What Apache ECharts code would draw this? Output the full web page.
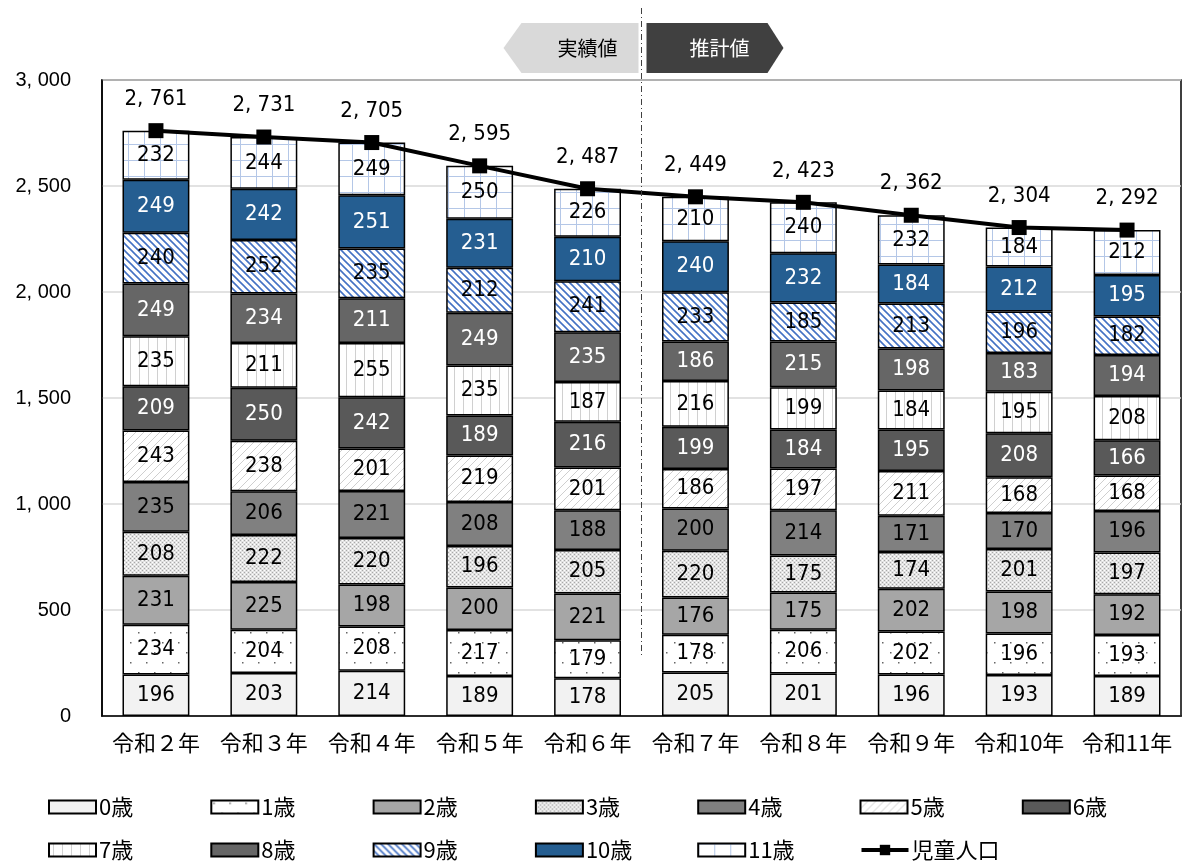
<!DOCTYPE html>
<html><head><meta charset="utf-8">
<script src="https://cdn.jsdelivr.net/npm/echarts@6/dist/echarts.min.js"></script>
<style>html,body{margin:0;padding:0;background:#fff}#c{width:1186px;height:864px}</style>
</head><body><div id="c"></div>
<script>
const categories = ['令和２年','令和３年','令和４年','令和５年','令和６年','令和７年','令和８年','令和９年','令和10年','令和11年'];
const age0  = [196,203,214,189,178,205,201,196,193,189];
const age1  = [234,204,208,217,179,178,206,202,196,193];
const age2  = [231,225,198,200,221,176,175,202,198,192];
const age3  = [208,222,220,196,205,220,175,174,201,197];
const age4  = [235,206,221,208,188,200,214,171,170,196];
const age5  = [243,238,201,219,201,186,197,211,168,168];
const age6  = [209,250,242,189,216,199,184,195,208,166];
const age7  = [235,211,255,235,187,216,199,184,195,208];
const age8  = [249,234,211,249,235,186,215,198,183,194];
const age9  = [240,252,235,212,241,233,185,213,196,182];
const age10 = [249,242,251,231,210,240,232,184,212,195];
const age11 = [232,244,249,250,226,210,240,232,184,212];
const totals = [2761,2731,2705,2595,2487,2449,2423,2362,2304,2292];
const seriesNames = ['0歳','1歳','2歳','3歳','4歳','5歳','6歳','7歳','8歳','9歳','10歳','11歳'];
const lineName = '児童人口';
const yTicks = {min:0, max:3000, interval:500};

function pat(w,h,draw){const c=document.createElement('canvas');c.width=w;c.height=h;const g=c.getContext('2d');g.fillStyle='#fff';g.fillRect(0,0,w,h);draw(g);return {image:c,repeat:'repeat'};}
const fills = [
  '#f2f2f2',
  pat(16,20,g=>{g.fillStyle='#666';g.fillRect(2,2,1.5,1.5);g.fillRect(10,12,1.5,1.5);}),
  '#a6a6a6',
  pat(4,4,g=>{g.fillStyle='#e2e2e2';g.fillRect(0,0,4,4);g.fillStyle='#a8a8a8';g.fillRect(0,0,1,1);g.fillRect(2,2,1,1);g.fillStyle='#fff';g.fillRect(2,0,1,1);g.fillRect(0,2,1,1);}),
  '#808080',
  pat(8,8,g=>{g.strokeStyle='#cfcfcf';g.lineWidth=1;g.beginPath();g.moveTo(0,8);g.lineTo(8,0);g.moveTo(-1,1);g.lineTo(1,-1);g.moveTo(7,9);g.lineTo(9,7);g.stroke();}),
  '#595959',
  pat(9,4,g=>{g.fillStyle='#d0d0d0';g.fillRect(4,0,1,4);}),
  '#666666',
  pat(7,7,g=>{g.strokeStyle='#4472c4';g.lineWidth=1.6;g.beginPath();g.moveTo(0,0);g.lineTo(7,7);g.moveTo(-1,6);g.lineTo(1,8);g.moveTo(6,-1);g.lineTo(8,1);g.stroke();}),
  '#255e91',
  pat(16,16,g=>{g.fillStyle='#b4c7e7';g.fillRect(0,0,16,1);g.fillRect(0,0,1,16);})
];
const labelColors = ['#000','#000','#000','#000','#000','#000','#fff','#000','#fff','#000','#fff','#000'];
const ageData = [age0,age1,age2,age3,age4,age5,age6,age7,age8,age9,age10,age11];

const narrow = "'Liberation Sans Narrow','DejaVu Sans Condensed','Noto Sans CJK JP',sans-serif";
const jp = "'Noto Sans CJK JP',sans-serif";
const fmt = v => String(v).replace(/\B(?=(\d{3})+(?!\d))/g, ', ');

const series = ageData.map((d,i)=>({
  name: seriesNames[i], type:'bar', stack:'a', barWidth:'62%', data:d,
  itemStyle:{color:fills[i], borderColor:'#000', borderWidth:1.5},
  label:{show:true, position:'inside', color:labelColors[i], fontSize:22, fontFamily:narrow},
  emphasis:{disabled:true}
}));
series.push({
  name: lineName, type:'line', data: totals, z:10,
  color:'#000', lineStyle:{color:'#000', width:4}, itemStyle:{color:'#000'},
  symbol:'rect', symbolSize:15,
  label:{show:true, position:'top', distance:13, color:'#000', fontSize:22, fontFamily:narrow, formatter:p=>fmt(p.value)},
  emphasis:{disabled:true}
});

const legendNames = seriesNames.concat([lineName]);
const legends = legendNames.map((n,i)=>({
  left: 48 + (i%7)*162.3, top: i<7 ? 796 : 839, padding:0,
  itemWidth:47, itemHeight:13, itemGap:0, selectedMode:false,
  data:[ i<12 ? {name:n, icon:'rect'} : {name:n, lineStyle:{width:4}, itemStyle:{color:'#000'}} ],
  textStyle:{fontSize:22, color:'#000', fontFamily:jp, padding:[0,0,0,-2]}
}));

const chart = echarts.init(document.getElementById('c'), null, {renderer:'canvas'});
chart.setOption({
  backgroundColor:'#fff',
  animation:false,
  grid:{left:102, right:5, top:80, bottom:148, show:true, borderColor:'#000', borderWidth:1.5},
  xAxis:{type:'category', data:categories, axisTick:{show:false},
    axisLine:{lineStyle:{color:'#000', width:1.5}},
    axisLabel:{color:'#000', fontSize:22, margin:16, interval:0, fontFamily:jp}},
  yAxis:{type:'value', min:yTicks.min, max:yTicks.max, interval:yTicks.interval,
    axisLine:{show:true, lineStyle:{color:'#000', width:1.5}}, axisTick:{show:false},
    splitLine:{lineStyle:{color:'#d9d9d9', width:1.5}},
    axisLabel:{color:'#000', fontSize:20, margin:31, fontFamily:"'Liberation Sans',Arial,sans-serif", formatter:v=>fmt(v)}},
  legend: legends,
  series: series
});

const x4 = chart.convertToPixel({xAxisIndex:0}, categories[4]);
const x5 = chart.convertToPixel({xAxisIndex:0}, categories[5]);
const xs = (x4+x5)/2;
chart.setOption({graphic:[
  {type:'polygon', shape:{points:[[xs-138,48],[xs-120,23],[xs-3,23],[xs-3,73],[xs-120,73]]}, style:{fill:'#d9d9d9'}, z:1},
  {type:'text', x:xs-54, y:48, style:{text:'実績値', fill:'#000', align:'center', verticalAlign:'middle', font:"20px 'Noto Sans CJK JP'"}, z:2},
  {type:'polygon', shape:{points:[[xs+5,23],[xs+126,23],[xs+142,48],[xs+126,73],[xs+5,73]]}, style:{fill:'#404040'}, z:1},
  {type:'text', x:xs+78, y:48, style:{text:'推計値', fill:'#fff', align:'center', verticalAlign:'middle', font:"20px 'Noto Sans CJK JP'"}, z:2},
  {type:'line', shape:{x1:xs, y1:8, x2:xs, y2:655}, style:{stroke:'#404040', lineWidth:1, lineDash:[6,3,1,3]}, z:20}
]});
</script></body></html>
